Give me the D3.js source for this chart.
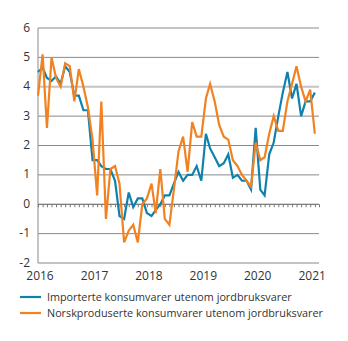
<!DOCTYPE html>
<html>
<head>
<meta charset="utf-8">
<script src="https://cdn.jsdelivr.net/npm/d3@7"></script>
<style>
  body { margin: 0; background: #fff; }
  text { font-family: "Open Sans", sans-serif; fill: #333; }
</style>
</head>
<body>
<svg id="chart" width="348" height="341"></svg>
<script>
// monthly values, Jan 2016 - Feb 2021
const importert = [
  4.5, 4.65, 4.3, 4.2, 4.35, 4.1, 4.7, 4.5, 3.7, 3.7, 3.2, 3.2,
  1.5, 1.5, 1.3, 1.2, 1.2, 0.8, -0.4, -0.5, 0.4, -0.1, 0.2, 0.2,
  -0.3, -0.4, -0.2, 0.0, 0.3, 0.3, 0.7, 1.1, 0.8, 1.0, 1.0, 1.3,
  0.8, 2.4, 1.9, 1.6, 1.3, 1.4, 1.7, 0.9, 1.0, 0.8, 0.8, 0.5,
  2.6, 0.5, 0.3, 1.7, 2.1, 3.0, 3.8, 4.5, 3.6, 4.1, 3.0, 3.5,
  3.5, 3.8
];
const norsk = [
  3.7, 5.1, 2.6, 5.0, 4.3, 4.0, 4.8, 4.7, 3.5, 4.6, 4.0, 3.3,
  2.2, 0.3, 3.5, -0.5, 1.2, 1.3, 0.7, -1.3, -0.9, -0.7, -1.3, 0.0,
  0.2, 0.7, -0.3, 1.2, -0.5, -0.7, 0.5, 1.8, 2.3, 1.1, 2.8, 2.3,
  2.3, 3.6, 4.1, 3.5, 2.7, 2.3, 2.2, 1.5, 1.3, 1.0, 0.8, 0.6,
  2.1, 1.5, 1.6, 2.4, 3.0, 2.5, 2.5, 3.5, 4.1, 4.7, 4.0, 3.5,
  3.9, 2.4
];
const months = importert.map((d, i) => new Date(2016, i, 1));
const yTicks = [-2, -1, 0, 1, 2, 3, 4, 5, 6];
const xTicks = [2016, 2017, 2018, 2019, 2020, 2021].map(yr => new Date(yr, 0, 1));
const seriesNames = [
  "Importerte konsumvarer utenom jordbruksvarer",
  "Norskproduserte konsumvarer utenom jordbruksvarer"
];
const colors = ["#0f82ac", "#f28120"];

const svg = d3.select("#chart");
const plotLeft = 38, plotRight = 319, plotTop = 28, plotBottom = 263;

const x = d3.scaleTime()
  .domain([new Date(2016, 0, 1), new Date(2021, 2, 1)])
  .range([plotLeft, plotRight]);
const y = d3.scaleLinear().domain([-2, 6]).range([plotBottom, plotTop]);

// grid lines
svg.append("g").selectAll("line")
  .data(yTicks.filter(d => d !== 0))
  .enter().append("line")
  .attr("x1", plotLeft).attr("x2", plotRight)
  .attr("y1", d => y(d)).attr("y2", d => y(d))
  .attr("stroke", d => d === 4 ? "#c4c4c4" : "#8a8a8a")
  .attr("stroke-width", d => d === 4 ? 2 : 1);

// left axis line
svg.append("line")
  .attr("x1", plotLeft).attr("x2", plotLeft)
  .attr("y1", plotTop).attr("y2", plotBottom)
  .attr("stroke", "#8a8a8a");

// zero line with monthly ticks
svg.append("g")
  .attr("transform", `translate(0,${y(0)})`)
  .call(d3.axisBottom(x).ticks(d3.timeMonth.every(1)).tickSize(3).tickFormat(""))
  .call(g => g.select(".domain").attr("stroke", "#555").attr("d", `M${plotLeft},0H${plotRight}`))
  .call(g => g.selectAll(".tick line").attr("stroke", "#777"));

// y labels
svg.append("g").selectAll("text")
  .data(yTicks)
  .enter().append("text")
  .attr("x", 30)
  .attr("y", d => y(d) + 3.5)
  .attr("text-anchor", "end")
  .style("font-size", "12px")
  .text(d => d);

// x labels
svg.append("g").selectAll("text")
  .data(xTicks)
  .enter().append("text")
  .attr("x", d => x(d) + 2)
  .attr("y", 280)
  .attr("text-anchor", "middle")
  .style("font-size", "12px")
  .text(d => d.getFullYear());

const line = d3.line()
  .x((d, i) => x(months[i]))
  .y(d => y(d));

[importert, norsk].forEach((s, k) => {
  svg.append("path")
    .datum(s)
    .attr("fill", "none")
    .attr("stroke", colors[k])
    .attr("stroke-width", 2.2)
    .attr("d", line);
});

// legend
const legend = svg.append("g");
seriesNames.forEach((name, k) => {
  const ly = 297 + k * 16;
  legend.append("line")
    .attr("x1", 20).attr("x2", 41)
    .attr("y1", ly).attr("y2", ly)
    .attr("stroke", colors[k])
    .attr("stroke-width", 2.2);
  legend.append("text")
    .attr("x", 47)
    .attr("y", ly + 4)
    .style("font-size", "10.8px")
    .text(name);
});
</script>
</body>
</html>
